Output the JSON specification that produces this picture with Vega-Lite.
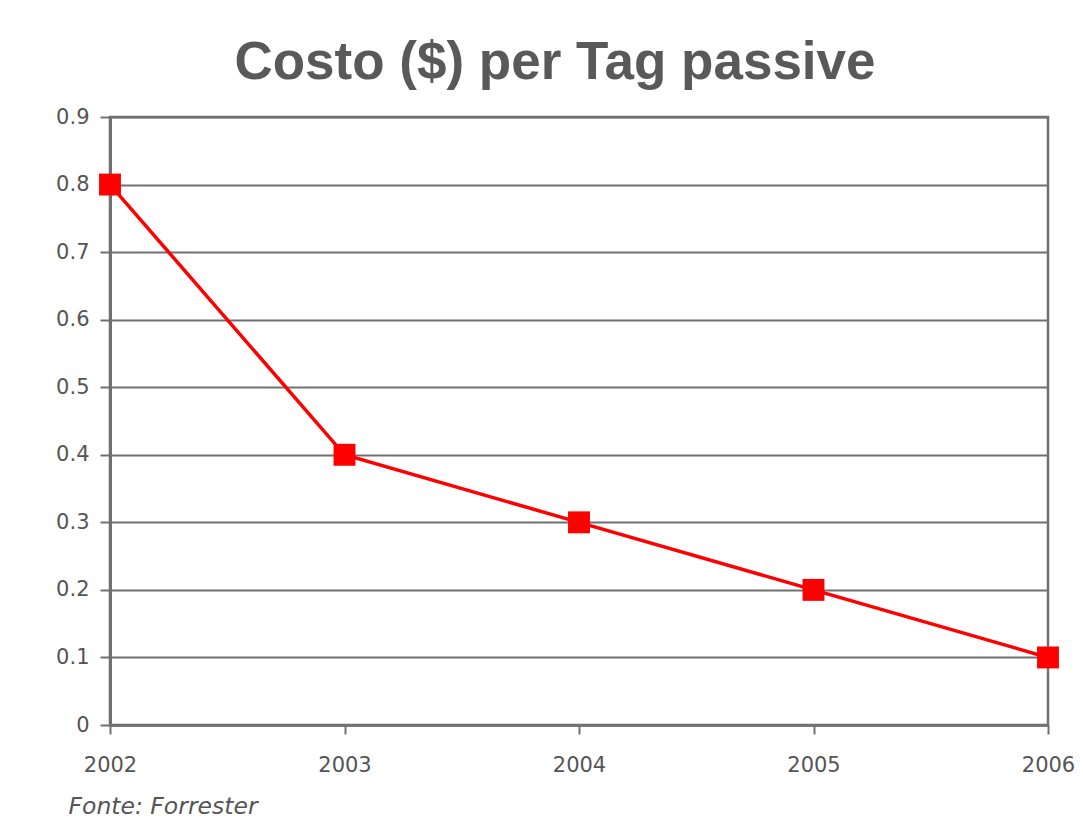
{
  "$schema": "https://vega.github.io/schema/vega-lite/v6.json",
  "width": 938,
  "height": 608,
  "autosize": {"type": "none"},
  "padding": {"left": 110, "top": 117, "right": 35, "bottom": 96},
  "background": "white",
  "title": {
    "text": "Costo ($) per Tag passive",
    "font": "Liberation Sans",
    "fontSize": 53,
    "fontWeight": "bold",
    "color": "#595959",
    "anchor": "middle",
    "dx": -24,
    "offset": 16
  },
  "config": {
    "view": {"stroke": "#707070", "strokeWidth": 2.5},
    "axis": {
      "labelFont": "DejaVu Sans",
      "labelFontSize": 21,
      "labelColor": "#555555",
      "domainColor": "#707070",
      "tickColor": "#707070",
      "gridColor": "#707070"
    }
  },
  "data": {
    "values": [
      {"year": "2002", "cost": 0.8},
      {"year": "2003", "cost": 0.4},
      {"year": "2004", "cost": 0.3},
      {"year": "2005", "cost": 0.2},
      {"year": "2006", "cost": 0.1}
    ]
  },
  "encoding": {
    "x": {
      "field": "year",
      "type": "ordinal",
      "scale": {"type": "point", "padding": 0},
      "axis": {
        "labelAngle": 0,
        "grid": false,
        "domainWidth": 2.5,
        "tickSize": 9,
        "tickWidth": 2,
        "labelPadding": 20,
        "title": "Fonte: Forrester",
        "titleFont": "DejaVu Sans",
        "titleFontStyle": "italic",
        "titleFontWeight": "normal",
        "titleFontSize": 23.5,
        "titleColor": "#555555",
        "titleAnchor": "start",
        "titleAlign": "left",
        "titleX": -42,
        "titleY": 88,
        "titleBaseline": "alphabetic"
      }
    },
    "y": {
      "field": "cost",
      "type": "quantitative",
      "scale": {"domain": [0, 0.9], "nice": false},
      "axis": {
        "values": [0, 0.1, 0.2, 0.3, 0.4, 0.5, 0.6, 0.7, 0.8, 0.9],
        "format": ".1~f",
        "title": null,
        "grid": true,
        "gridWidth": 2,
        "domainWidth": 3,
        "tickSize": 10,
        "tickWidth": 2,
        "labelPadding": 11
      }
    }
  },
  "layer": [
    {"mark": {"type": "line", "color": "#ff0000", "strokeWidth": 3.5}},
    {"mark": {"type": "square", "color": "#ff0000", "opacity": 1, "filled": true, "size": 480}}
  ]
}
